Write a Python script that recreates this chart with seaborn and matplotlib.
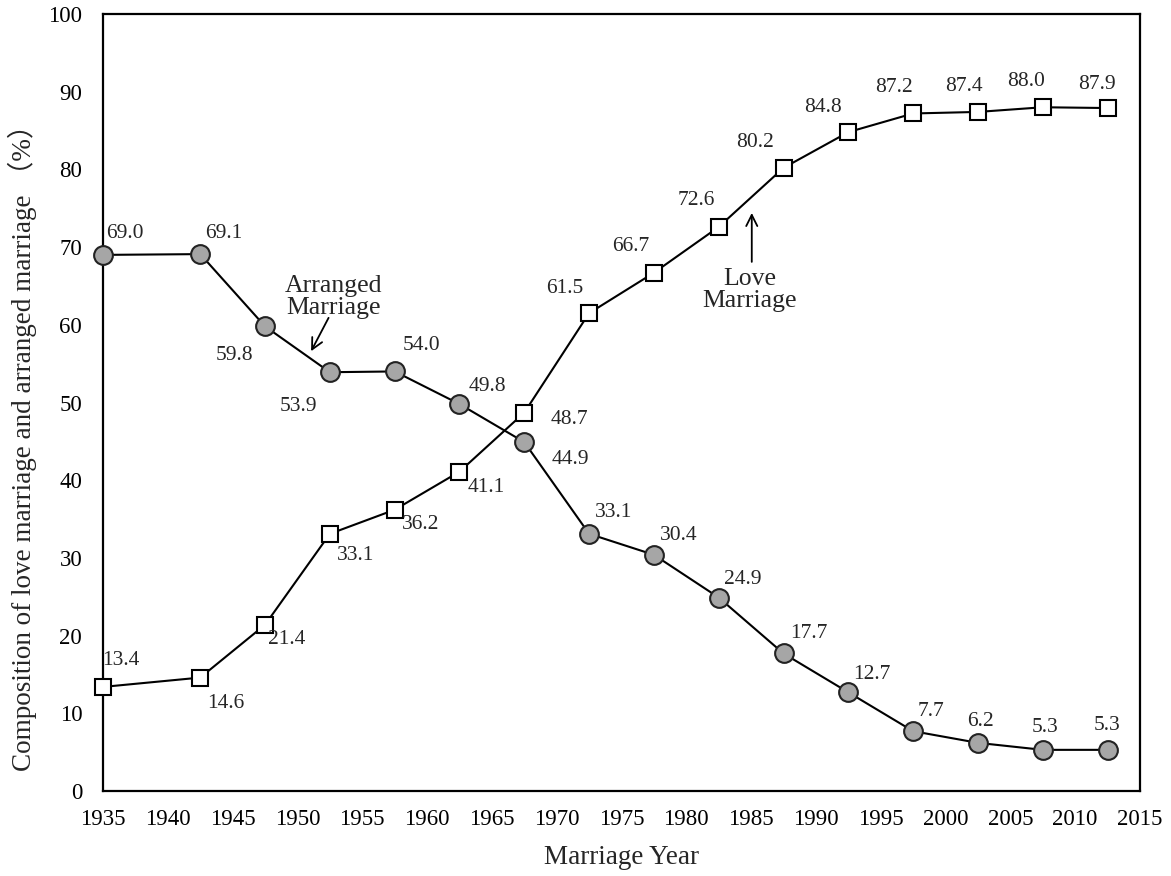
import matplotlib
matplotlib.use("Agg")
import matplotlib.pyplot as plt
import seaborn as sns
import pandas as pd

years = [1935, 1942.5, 1947.5, 1952.5, 1957.5, 1962.5, 1967.5, 1972.5, 1977.5,
         1982.5, 1987.5, 1992.5, 1997.5, 2002.5, 2007.5, 2012.5]
love = [13.4, 14.6, 21.4, 33.1, 36.2, 41.1, 48.7, 61.5, 66.7, 72.6, 80.2, 84.8,
        87.2, 87.4, 88.0, 87.9]
arranged = [69.0, 69.1, 59.8, 53.9, 54.0, 49.8, 44.9, 33.1, 30.4, 24.9, 17.7,
            12.7, 7.7, 6.2, 5.3, 5.3]
xticks = list(range(1935, 2016, 5))
yticks = list(range(0, 101, 10))

sns.set_theme(style="white")
plt.rcParams['font.family'] = ['Liberation Serif', 'DejaVu Serif']

fig = plt.figure(figsize=(11.71, 8.76), dpi=100)
ax = fig.add_axes([0.088, 0.097, 0.8855, 0.887])

df_l = pd.DataFrame({"year": years, "value": love})
df_a = pd.DataFrame({"year": years, "value": arranged})

sns.lineplot(data=df_a, x="year", y="value", ax=ax, color="black", lw=1.5,
             marker="o", markersize=13.5, markerfacecolor="#a6a6a6",
             markeredgecolor="#222222", markeredgewidth=1.5, zorder=3,
             clip_on=False)
sns.lineplot(data=df_l, x="year", y="value", ax=ax, color="black", lw=1.5,
             marker="s", markersize=11.5, markerfacecolor="white",
             markeredgecolor="black", markeredgewidth=1.5, zorder=3,
             clip_on=False)

# label offsets in pixels (dx, dy down-positive)
love_off = [(18, -26), (26, 26), (22, 15), (26, 22), (26, 15), (27, 16), (45, 7),
            (-24, -25), (-23, -26), (-22, -26), (-29, -25), (-25, -25),
            (-19, -26), (-14, -25), (-17, -26), (-11, -24)]
arr_off = [(22, -21), (23, -21), (-31, 29), (-31, 34), (27, -26), (28, -18),
           (46, 17), (24, -21), (25, -19), (24, -18), (25, -20), (24, -18),
           (18, -20), (2, -21), (2, -22), (-1, -24)]
for x, v, (dx, dy) in zip(years, love, love_off):
    ax.annotate(f"{v:.1f}", (x, v), xytext=(dx * 0.72, -dy * 0.72),
                textcoords="offset points", ha="center", va="center",
                fontsize=15.5)
for x, v, (dx, dy) in zip(years, arranged, arr_off):
    ax.annotate(f"{v:.1f}", (x, v), xytext=(dx * 0.72, -dy * 0.72),
                textcoords="offset points", ha="center", va="center",
                fontsize=15.5)

ax.text(1952.75, 63.6, "Arranged\nMarriage", ha="center", va="center",
        fontsize=18.5, linespacing=1.0)
ax.annotate("", xy=(1951.05, 56.6), xytext=(1952.4, 60.9),
            arrowprops=dict(arrowstyle="->", color="black", lw=1.3,
                            mutation_scale=20, shrinkA=0, shrinkB=0))
ax.text(1984.9, 64.5, "Love\nMarriage", ha="center", va="center",
        fontsize=18.5, linespacing=1.0)
ax.annotate("", xy=(1985.05, 74.4), xytext=(1985.05, 68.1),
            arrowprops=dict(arrowstyle="->", color="black", lw=1.3,
                            mutation_scale=20, shrinkA=0, shrinkB=0))

ax.set_xlim(1935, 2015)
ax.set_ylim(0, 100)
ax.set_xticks(xticks)
ax.set_yticks(yticks)
ax.tick_params(direction="in", length=5, width=1.2, labelsize=16.5,
               colors="black")
ax.tick_params(axis="x", pad=13)
ax.tick_params(axis="y", pad=15)
for s in ax.spines.values():
    s.set_visible(True)
    s.set_color("black")
    s.set_linewidth(1.6)
ax.set_xlabel("Marriage Year", fontsize=19.5, labelpad=11)
ax.set_ylabel("Composition of love marriage and arranged marriage （%）",
              fontsize=19.5, family=['Liberation Serif', 'Noto Sans CJK JP'])
ax.yaxis.set_label_coords(-0.064, 0.45)

fig.savefig("out.png", dpi=100)
